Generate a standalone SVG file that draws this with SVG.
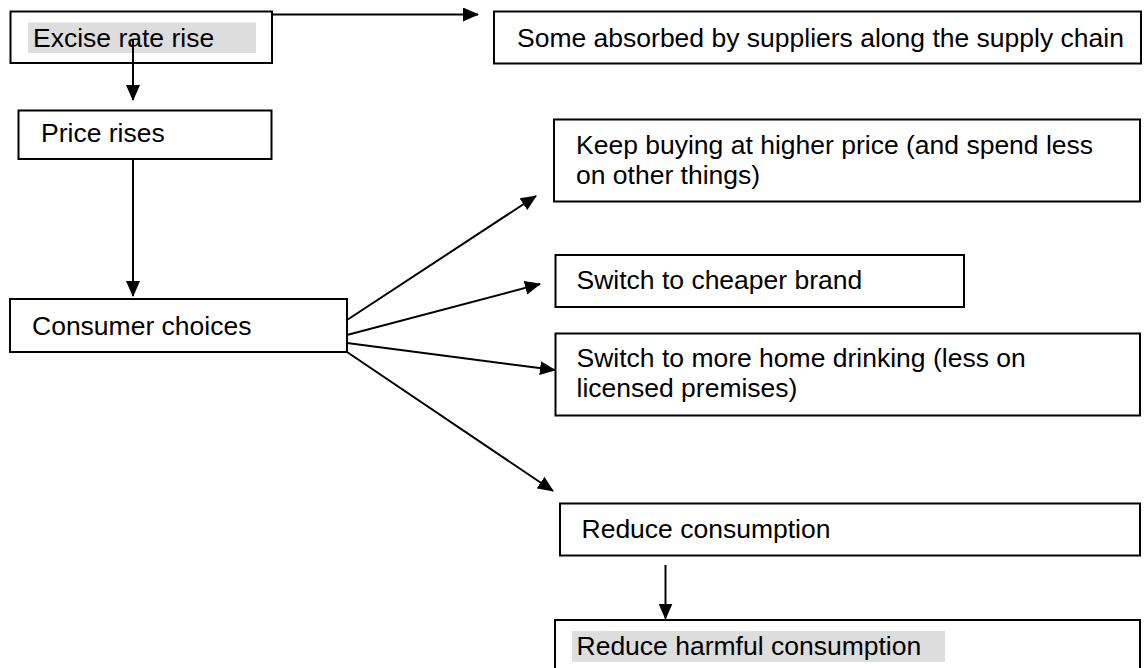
<svg xmlns="http://www.w3.org/2000/svg" width="1148" height="668" viewBox="0 0 1148 668">
<style>
.box{fill:#fff;stroke:#000;stroke-width:2}
.hl{fill:#dddddd}
.t{font-family:"Liberation Sans",Arial,sans-serif;font-size:26.5px;fill:#000}
.c{stroke:#000;stroke-width:2;fill:none}
</style>
<defs>
<marker id="ah" markerUnits="userSpaceOnUse" markerWidth="16" markerHeight="14" refX="15" refY="7" orient="auto">
<path d="M0,0 L16,7 L0,14 Z" fill="#000"/>
</marker>
</defs>
<rect width="1148" height="668" fill="#fff"/>
<g id="n1"><rect class="box" x="10.5" y="11.5" width="261.5" height="51.5"/><rect class="hl" x="28" y="22.5" width="228" height="30.5"/><text class="t" x="33" y="47">Excise rate rise</text></g>
<g id="n2"><rect class="box" x="494" y="11.5" width="647" height="52"/><text class="t" x="517" y="47">Some absorbed by suppliers along the supply chain</text></g>
<g id="n3"><rect class="box" x="18.5" y="110.5" width="253" height="48.5"/><text class="t" x="41" y="142">Price rises</text></g>
<g id="n4"><rect class="box" x="10" y="299" width="337" height="53"/><text class="t" x="32" y="335">Consumer choices</text></g>
<g id="n5"><rect class="box" x="554" y="119.5" width="586" height="82"/><text class="t" x="576" y="154">Keep buying at higher price (and spend less</text><text class="t" x="576" y="184">on other things)</text></g>
<g id="n6"><rect class="box" x="555.5" y="255" width="408.5" height="52"/><text class="t" x="576.5" y="289">Switch to cheaper brand</text></g>
<g id="n7"><rect class="box" x="555.5" y="333.5" width="584.5" height="82"/><text class="t" x="576.5" y="367">Switch to more home drinking (less on</text><text class="t" x="576.5" y="397">licensed premises)</text></g>
<g id="n8"><rect class="box" x="560" y="503.5" width="580" height="52"/><text class="t" x="581.5" y="538">Reduce consumption</text></g>
<g id="n9"><rect class="box" x="555" y="620" width="585" height="60"/><rect class="hl" x="572" y="631" width="373" height="31"/><text class="t" x="576.5" y="655">Reduce harmful consumption</text></g>
<g id="connectors">
<line class="c" x1="272" y1="14.5" x2="478" y2="14.5" marker-end="url(#ah)"/>
<line class="c" x1="133" y1="40" x2="133" y2="100" marker-end="url(#ah)"/>
<line class="c" x1="133" y1="159" x2="133" y2="296" marker-end="url(#ah)"/>
<line class="c" x1="347" y1="320" x2="536" y2="196" marker-end="url(#ah)"/>
<line class="c" x1="347" y1="335" x2="540" y2="284" marker-end="url(#ah)"/>
<line class="c" x1="347" y1="343" x2="555" y2="370" marker-end="url(#ah)"/>
<line class="c" x1="347" y1="352" x2="553" y2="491" marker-end="url(#ah)"/>
<line class="c" x1="665.5" y1="565" x2="665.5" y2="618.5" marker-end="url(#ah)"/>
</g>
</svg>
